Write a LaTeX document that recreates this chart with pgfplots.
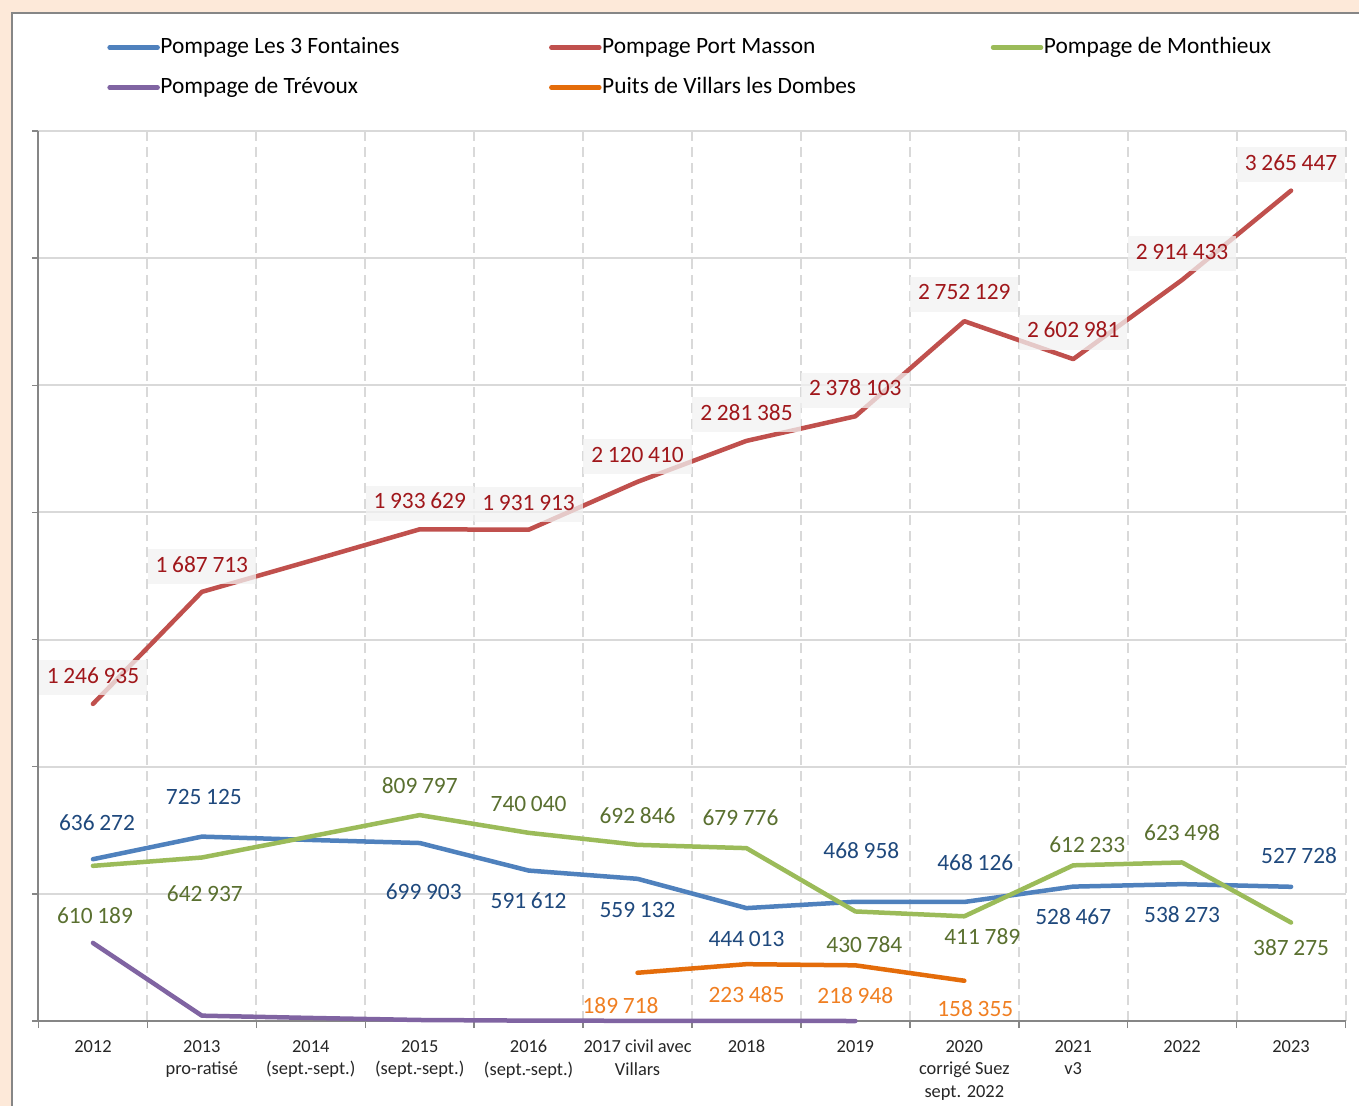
\documentclass[border=0pt]{standalone}
\usepackage{pgfplots}
\pgfplotsset{compat=1.18}
\usepackage{pgfplotstable}
\usepackage{fontspec}
\setmainfont{Carlito}
\definecolor{cBlue}{HTML}{4F81BD}
\definecolor{cRed}{HTML}{C0504D}
\definecolor{cGreen}{HTML}{9BBB59}
\definecolor{cPurple}{HTML}{8064A2}
\definecolor{cOrange}{HTML}{E46C0A}
\definecolor{lBlue}{HTML}{1F497D}
\definecolor{lRed}{HTML}{A0171B}
\definecolor{lGreen}{HTML}{5A7030}
\definecolor{lOrange}{HTML}{F07F22}
\definecolor{bgPeach}{HTML}{FDE9D9}
\definecolor{gridc}{HTML}{D9D9D9}
\definecolor{axisc}{HTML}{868686}
\newcommand{\tsp}{\kern0.2em}
\newcommand{\labfont}{\fontsize{11.7}{13}\selectfont}

% ---------- series ----------
\pgfplotstableread{
x y
0 636272
1 725125
2 712000
3 699903
4 591612
5 559132
6 444013
7 468958
8 468126
9 528467
10 538273
11 527728
}\fontaines
\pgfplotstableread{
x y
0 1246935
1 1687713
2 1810000
3 1933629
4 1931913
5 2120410
6 2281385
7 2378103
8 2752129
9 2602981
10 2914433
11 3265447
}\masson
\pgfplotstableread{
x y
0 610189
1 642937
2 726000
3 809797
4 740040
5 692846
6 679776
7 430784
8 411789
9 612233
10 623498
11 387275
}\monthieux
\pgfplotstableread{
x y
0 307000
1 21000
2 12000
3 4000
4 1500
5 800
6 400
7 0
}\trevoux
\pgfplotstableread{
x y
5 189718
6 223485
7 218948
8 158355
}\villars

% ---------- labels (dx, dy in pt) ----------
\pgfplotstableread{
x y dx dy lab
0 636272 2 18.5 636\tsp272
1 725125 1 20 725\tsp125
3 699903 2 -24.5 699\tsp903
4 591612 0 -15 591\tsp612
5 559132 0 -15.5 559\tsp132
6 444013 0 -15.5 444\tsp013
7 468958 3 25.5 468\tsp958
8 468126 5.5 19.5 468\tsp126
9 528467 0 -15 528\tsp467
10 538273 0 -15 538\tsp273
11 527728 4 15.5 527\tsp728
}\fontainesLab
\pgfplotstableread{
x y dx dy lab
0 1246935 0 13 1\tsp246\tsp935
1 1687713 0 12.5 1\tsp687\tsp713
3 1933629 0 13 1\tsp933\tsp629
4 1931913 0 12.5 1\tsp931\tsp913
5 2120410 0 12.5 2\tsp120\tsp410
6 2281385 0 13 2\tsp281\tsp385
7 2378103 0 13 2\tsp378\tsp103
8 2752129 0 13.5 2\tsp752\tsp129
9 2602981 0 13.5 2\tsp602\tsp981
10 2914433 0 13 2\tsp914\tsp433
11 3265447 0 13 3\tsp265\tsp447
}\massonLab
\pgfplotstableread{
x y dx dy lab
0 610189 1 -25 610\tsp189
1 642937 1.5 -18 642\tsp937
3 809797 0 14.5 809\tsp797
4 740040 0 14.5 740\tsp040
5 692846 0 14.5 692\tsp846
6 679776 -3 15 679\tsp776
7 430784 4.5 -16.5 430\tsp784
8 411789 9 -10 411\tsp789
9 612233 7 10.5 612\tsp233
10 623498 0 15 623\tsp498
11 387275 0 -12.5 387\tsp275
}\monthieuxLab
\pgfplotstableread{
x y dx dy lab
5 189718 -8.5 -16.5 189\tsp718
6 223485 0 -15 223\tsp485
7 218948 0 -15 218\tsp948
8 158355 5.5 -14 158\tsp355
}\villarsLab

\tikzset{
  lab/.style={font=\labfont, inner sep=0pt, anchor=center},
  labRed/.style={lab, text=lRed, fill=black!5, fill opacity=0.75, text opacity=1,
    inner xsep=4pt, inner ysep=3.5pt, text height=8pt, text depth=2.5pt},
  labBlue/.style={lab, text=lBlue},
  labGreen/.style={lab, text=lGreen},
  labOrange/.style={lab, text=lOrange},
}
\newcommand{\putlabels}[2]{%
  \pgfplotstablegetrowsof{#1}%
  \pgfmathtruncatemacro{\nrows}{\pgfplotsretval-1}%
  \pgfplotsforeachungrouped \i in {0,...,\nrows}{%
    \pgfplotstablegetelem{\i}{x}\of{#1}\let\lx\pgfplotsretval
    \pgfplotstablegetelem{\i}{y}\of{#1}\let\ly\pgfplotsretval
    \pgfplotstablegetelem{\i}{dx}\of{#1}\let\ldx\pgfplotsretval
    \pgfplotstablegetelem{\i}{dy}\of{#1}\let\ldy\pgfplotsretval
    \pgfplotstablegetelem{\i}{lab}\of{#1}\let\llab\pgfplotsretval
    \edef\temp{\noexpand\node[#2, xshift=\ldx pt, yshift=\ldy pt] at (axis cs:\lx,\ly) {\unexpanded\expandafter{\llab}};}%
    \temp
  }%
}

\pgfplotsset{
  serie/.style={line width=2.25pt, line join=round, line cap=round, mark=none},
}

\begin{document}
\begin{tikzpicture}
\useasboundingbox (0,0) rectangle (679.5pt,-553pt);
\fill[bgPeach] (0,0) rectangle (679.5pt,-553pt);
\filldraw[fill=white, draw=axisc, line width=1pt] (6pt,-6.5pt) rectangle (690pt,-570pt);
\begin{axis}[
  at={(19.25pt,-510.5pt)}, anchor=south west,
  scale only axis, width=653.5pt, height=445pt,
  xmin=-0.5, xmax=11.5, ymin=0, ymax=3500000,
  axis x line*=bottom, axis y line*=left,
  axis line style={axisc, line width=1pt},
  xtick={0,1,2,3,4,5,6,7,8,9,10,11},
  xticklabels={2012,{2013\\pro-ratisé},{2014\\(sept.-sept.)},{2015\\(sept.-sept.)},{2016\\(sept.-sept.)},{2017 civil avec\\Villars},2018,2019,{2020\\corrigé Suez\\sept. 2022},{2021\\v3},2022,2023},
  minor xtick={-0.5,0.5,1.5,2.5,3.5,4.5,5.5,6.5,7.5,8.5,9.5,10.5,11.5},
  xminorgrids, ymajorgrids,
  minor x grid style={gridc, line width=1pt, dash pattern=on 5pt off 3pt},
  y grid style={gridc, line width=1pt},
  ytick={0,500000,1000000,1500000,2000000,2500000,3000000,3500000},
  yticklabels={},
  scaled y ticks=false,
  tick align=outside,
  major x tick style={draw=none},
  minor x tick style={axisc, line width=0.75pt},
  minor tick length=3.5pt,
  major tick length=3pt,
  y tick style={axisc, line width=0.75pt},
  xticklabel style={align=center, font=\fontsize{9.2}{11.25}\selectfont, text=black!85, yshift=-3pt},
  clip=false,
  legend columns=3,
  legend cell align=left,
  legend image code/.code={\draw[#1] (0pt,0pt) -- (24pt,0pt);},
  legend style={draw=none, fill=none, at={(0.0524,1.1067)}, anchor=north west,
    inner sep=0pt, row sep=9pt, font=\labfont,
    nodes={inner xsep=0.3pt, inner ysep=0pt, text height=8.5pt, text depth=2.5pt}},
]
\addplot[serie, cBlue] table[x=x,y=y] {\fontaines};
\addlegendentry{\makebox[194pt][l]{Pompage Les 3 Fontaines}}
\addplot[serie, cRed] table[x=x,y=y] {\masson};
\addlegendentry{\makebox[194pt][l]{Pompage Port Masson}}
\addplot[serie, cGreen] table[x=x,y=y] {\monthieux};
\addlegendentry{\makebox[194pt][l]{Pompage de Monthieux}}
\addplot[serie, cPurple] table[x=x,y=y] {\trevoux};
\addlegendentry{\makebox[194pt][l]{Pompage de Trévoux}}
\addplot[serie, cOrange] table[x=x,y=y] {\villars};
\addlegendentry{\makebox[194pt][l]{Puits de Villars les Dombes}}

\putlabels{\massonLab}{labRed}
\putlabels{\fontainesLab}{labBlue}
\putlabels{\monthieuxLab}{labGreen}
\putlabels{\villarsLab}{labOrange}
\end{axis}
\end{tikzpicture}
\end{document}
